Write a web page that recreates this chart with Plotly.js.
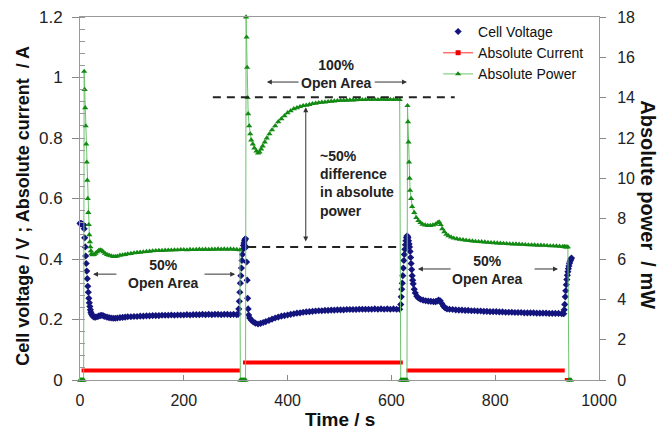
<!DOCTYPE html>
<html>
<head>
<meta charset="utf-8">
<script src="https://cdn.plot.ly/plotly-3.0.1.min.js"></script>
<style>html,body{margin:0;padding:0;background:#fff;}#chart{width:672px;height:431px;}</style>
</head>
<body>
<div id="chart"></div>
<script>
// Cell voltage (V) vs time (s)
var tVoltage = [0,1.5,3,4.5,6,7,
  8,9,10,11,12,13,14,15,16,17,18,19,20,21,22,24,27,30,33,36,39,42,45,48,52,56,60,64,68,72,77,82,87,92,98,104,110,116,122,128,134,140,146,152,158,164,170,176,182,188,194,200,206,212,218,224,230,236,242,248,254,260,266,272,278,284,290,296,302,305,
  306,307,308,309,310,311,312,313,314,315,316,317,318,319,
  320,321,322,323,324,325,327,330,334,338,343,348,353,358,364,370,376,382,388,394,400,406,412,418,424,430,436,442,448,454,460,466,472,478,484,490,496,502,508,514,520,526,532,538,544,550,556,562,568,574,580,586,592,598,604,610,616,
  618,619,620,621,622,623,624,625,626,627,628,629,630,
  631,632,633,634,635,636,637,638,639,640,641,642,644,646,649,652,656,661,666,671,676,681,685,688,691,694,697,700,703,707,712,718,724,730,736,742,748,754,760,766,772,778,784,790,796,802,808,814,820,826,832,838,844,850,856,862,868,874,880,886,892,898,904,910,916,922,928,932,
  933,934,935,936,937,938,939,940,941,942,943,944,945,946,947];
var cellVoltage = [0.518,0.516,0.517,0.515,0.514,0.512,
  0.50,0.47,0.44,0.41,0.385,0.36,0.335,0.31,0.29,0.27,0.255,0.243,0.232,0.224,0.218,0.212,0.208,0.208,0.209,0.211,0.213,0.214,0.212,0.210,0.208,0.206,0.205,0.204,0.204,0.205,0.206,0.207,0.208,0.209,0.209,0.210,0.210,0.211,0.211,0.212,0.212,0.213,0.213,0.213,0.214,0.214,0.214,0.215,0.214,0.215,0.215,0.215,0.216,0.215,0.216,0.216,0.216,0.217,0.216,0.217,0.216,0.217,0.217,0.216,0.217,0.217,0.216,0.217,0.216,0.218,
  0.235,0.26,0.29,0.32,0.345,0.37,0.395,0.415,0.432,0.445,0.453,0.46,0.465,0.467,
  0.44,0.39,0.33,0.27,0.235,0.215,0.205,0.198,0.192,0.188,0.185,0.187,0.19,0.193,0.197,0.201,0.205,0.208,0.211,0.213,0.215,0.217,0.219,0.221,0.222,0.224,0.225,0.226,0.227,0.228,0.229,0.229,0.23,0.23,0.231,0.231,0.232,0.232,0.232,0.233,0.233,0.233,0.233,0.234,0.234,0.234,0.234,0.234,0.235,0.234,0.235,0.234,0.235,0.234,0.235,0.234,0.234,
  0.25,0.275,0.30,0.32,0.345,0.37,0.395,0.415,0.432,0.447,0.46,0.47,0.476,
  0.475,0.47,0.46,0.45,0.44,0.425,0.405,0.385,0.365,0.345,0.33,0.318,0.30,0.288,0.277,0.271,0.267,0.264,0.262,0.261,0.26,0.259,0.259,0.261,0.264,0.262,0.253,0.245,0.239,0.235,0.234,0.233,0.232,0.231,0.231,0.23,0.23,0.229,0.229,0.228,0.228,0.227,0.227,0.226,0.226,0.226,0.225,0.225,0.224,0.224,0.224,0.223,0.223,0.223,0.222,0.222,0.222,0.222,0.221,0.221,0.221,0.221,0.22,0.22,0.22,0.22,0.219,0.219,
  0.232,0.25,0.275,0.295,0.315,0.332,0.346,0.358,0.368,0.377,0.385,0.391,0.396,0.40,0.403];

// Absolute current (A) vs time (s); null breaks between steps
var tCurrent = [0,3,null,3,308,null,309,314,null,314,622,null,622,629,null,629,934,null,934,947];
var absCurrent = [0,0,null,0.031,0.031,null,0,0,null,0.058,0.058,null,0,0,null,0.031,0.031,null,0,0];

// Absolute power (mW) vs time (s)
var tPower = [0,1.5,3,4.5,6,7,
  8,9,10,11,12,13,14,15,16,17,18,19,20,21,22,24,27,30,33,36,39,42,45,48,52,56,60,64,68,72,77,82,87,92,98,104,110,116,122,128,134,140,146,152,158,164,170,176,182,188,194,200,206,212,218,224,230,236,242,248,254,260,266,272,278,284,290,296,302,308,
  309,311,313,315,317,319,
  320,321,322,323,324,326,328,330,333,336,340,343,346,349,352,356,360,365,370,376,382,388,394,400,406,412,418,424,430,436,442,448,454,460,466,472,478,484,490,496,502,508,514,520,526,532,538,544,550,556,562,568,574,580,586,592,598,604,610,616,
  618,620,622,624,626,628,630,
  631,632,633,634,635,636,638,640,644,648,652,656,660,665,670,675,680,685,689,692,695,698,702,706,710,715,720,726,732,738,744,750,756,762,768,774,780,786,792,798,804,810,816,822,828,834,840,846,852,858,864,870,876,882,888,894,900,906,912,918,924,930,933,
  934,936,938,940,942,944,946];
var absPower = [0,0,0,0,0,0,
  15.3,14.4,13.5,12.6,11.7,10.8,9.9,9.0,8.3,7.7,7.2,6.85,6.6,6.4,6.25,6.2,6.22,6.28,6.35,6.42,6.45,6.42,6.35,6.28,6.22,6.18,6.15,6.12,6.12,6.14,6.18,6.2,6.22,6.25,6.27,6.3,6.32,6.33,6.35,6.37,6.38,6.4,6.41,6.42,6.42,6.43,6.44,6.44,6.45,6.45,6.46,6.46,6.45,6.47,6.46,6.47,6.48,6.47,6.48,6.47,6.48,6.48,6.49,6.48,6.49,6.48,6.49,6.48,6.47,6.45,
  0,0,0,0,0,0,
  18.0,17.0,15.5,14.0,13.2,12.6,12.2,11.9,11.7,11.5,11.35,11.25,11.3,11.45,11.6,11.8,12.0,12.2,12.4,12.6,12.8,12.95,13.1,13.25,13.35,13.45,13.5,13.55,13.6,13.62,13.66,13.7,13.72,13.75,13.77,13.78,13.8,13.82,13.83,13.85,13.86,13.86,13.87,13.88,13.88,13.89,13.9,13.9,13.9,13.91,13.9,13.91,13.9,13.92,13.91,13.9,13.91,13.9,13.92,13.9,
  0,0,0,0,0,0,0,
  13.6,12.8,11.8,10.8,10.0,9.4,9.0,8.6,8.3,8.05,7.9,7.8,7.72,7.68,7.66,7.66,7.68,7.72,7.8,7.84,7.7,7.5,7.35,7.22,7.15,7.08,7.03,7.0,6.97,6.95,6.93,6.91,6.89,6.87,6.86,6.85,6.84,6.82,6.81,6.8,6.79,6.78,6.77,6.76,6.75,6.74,6.74,6.73,6.72,6.71,6.7,6.7,6.69,6.68,6.68,6.67,6.66,6.65,6.65,6.64,6.63,6.62,6.61,6.6,6.6,6.59,6.6,
  0,0,0,0,0,0,0];

var FONT = 'Arial, "Liberation Sans", sans-serif';
var navy = '#14147e';
var dkGreen = '#138a13';

var traces = [
  {x: tVoltage, y: cellVoltage, name: 'Cell Voltage', type: 'scatter', mode: 'markers',
   marker: {symbol: 'diamond', size: 5.5, color: navy}, yaxis: 'y', cliponaxis: false},
  {x: tCurrent, y: absCurrent, name: 'Absolute Current', type: 'scatter', mode: 'lines',
   line: {color: '#ff0000', width: 4}, yaxis: 'y', showlegend: false, cliponaxis: false},
  {x: [null], y: [null], name: 'Absolute Current', type: 'scatter', mode: 'lines+markers',
   line: {color: '#ff7070', width: 1.5}, marker: {symbol: 'square', size: 5, color: '#ee0000'}, yaxis: 'y'},
  {x: tPower, y: absPower, name: 'Absolute Power', type: 'scatter', mode: 'lines+markers',
   line: {color: '#6cc46c', width: 1}, marker: {symbol: 'triangle-up', size: 5.5, color: dkGreen},
   yaxis: 'y2', cliponaxis: false}
];

var annFont = {family: FONT, size: 14, color: '#222'};
function harrow(xh, xt, y) {
  return {x: xh, y: y, ax: xt, ay: y, xref: 'x', yref: 'y', axref: 'x', ayref: 'y',
          text: '', showarrow: true, arrowhead: 2, arrowsize: 1, arrowwidth: 1, arrowcolor: '#333'};
}

var layout = {
  width: 672, height: 431,
  margin: {l: 80, r: 73, t: 17, b: 51},
  paper_bgcolor: '#fff', plot_bgcolor: '#fff',
  font: {family: FONT, color: '#222'},
  showlegend: true,
  legend: {x: 0.69, y: 1.003, xanchor: 'left', yanchor: 'top', bgcolor: 'rgba(0,0,0,0)',
           font: {family: FONT, size: 14, color: '#111'}, tracegroupgap: 0},
  xaxis: {range: [0, 1000], dtick: 200, tick0: 0, showgrid: false, zeroline: false,
          showline: true, linecolor: '#999', linewidth: 1, mirror: true,
          ticks: 'inside', ticklen: 5, tickcolor: '#888',
          tickfont: {family: FONT, size: 16, color: '#222'}, ticklabelstandoff: 6},
  yaxis: {range: [0, 1.2], dtick: 0.2, tick0: 0, showgrid: false, zeroline: false,
          showline: true, linecolor: '#999', linewidth: 1,
          ticks: 'outside', ticklen: 7, tickcolor: '#888',
          minor: {dtick: 0.04, ticks: 'inside', ticklen: 5, tickcolor: '#999'},
          tickfont: {family: FONT, size: 17, color: '#222'}, ticklabelstandoff: 6},
  yaxis2: {range: [0, 18], dtick: 2, tick0: 0, overlaying: 'y', side: 'right', anchor: 'x',
           showgrid: false, zeroline: false, showline: true, linecolor: '#999', linewidth: 1,
           ticks: 'outside', ticklen: 6, tickcolor: '#888',
           tickfont: {family: FONT, size: 16, color: '#222'}, ticklabelstandoff: 8},
  yaxis3: {range: [0, 18], dtick: 2, tick0: 0, overlaying: 'y', side: 'right', anchor: 'x',
           showgrid: false, zeroline: false, showline: false, showticklabels: false,
           ticks: 'inside', ticklen: 6, tickcolor: '#888'},
  shapes: [
    {type: 'line', xref: 'x', yref: 'y', x0: 256, x1: 722, y0: 0.935, y1: 0.935,
     line: {color: '#222', width: 2, dash: '8px,6px'}},
    {type: 'line', xref: 'x', yref: 'y', x0: 324, x1: 617, y0: 0.44, y1: 0.44,
     line: {color: '#222', width: 2, dash: '8px,6px'}}
  ],
  annotations: [
    {x: 160, y: 0.35, xref: 'x', yref: 'y', text: '<b>50%<br>Open Area</b>', showarrow: false, font: annFont, align: 'center'},
    {x: 493, y: 1.013, xref: 'x', yref: 'y', text: '<b>100%<br>Open Area</b>', showarrow: false, font: annFont, align: 'center'},
    {x: 784, y: 0.364, xref: 'x', yref: 'y', text: '<b>50%<br>Open Area</b>', showarrow: false, font: annFont, align: 'center'},
    {x: 459, y: 0.651, xref: 'x', yref: 'y', xanchor: 'left', text: '<b>~50%<br>difference<br>in absolute<br>power</b>', showarrow: false, font: annFont, align: 'left'},
    harrow(25, 73, 0.35), harrow(299, 237, 0.35),
    harrow(360, 424, 0.985), harrow(630, 565, 0.985),
    harrow(651, 717, 0.367), harrow(921, 873, 0.367),
    {x: 435, y: 0.902, ax: 435, ay: 0.453, xref: 'x', yref: 'y', axref: 'x', ayref: 'y',
     text: '', showarrow: true, arrowhead: 2, arrowside: 'end+start', arrowsize: 1, arrowwidth: 1, arrowcolor: '#333'},
    {x: -0.11, y: 0.48, xref: 'paper', yref: 'paper', xanchor: 'center', yanchor: 'middle', textangle: -90, showarrow: false,
     text: '<b>Cell voltage / V ; Absolute current&nbsp; / A</b>', font: {family: FONT, size: 18, color: '#111'}},
    {x: 1.094, y: 0.482, xref: 'paper', yref: 'paper', xanchor: 'center', yanchor: 'middle', textangle: 90, showarrow: false,
     text: '<b>Absolute power&nbsp; / mW</b>', font: {family: FONT, size: 20, color: '#111'}},
    {x: 0.501, y: -0.108, xref: 'paper', yref: 'paper', xanchor: 'center', yanchor: 'middle', showarrow: false,
     text: '<b>Time / s</b>', font: {family: FONT, size: 19, color: '#111'}}
  ]
};

Plotly.newPlot('chart', traces, layout, {displayModeBar: false, staticPlot: true});
</script>
</body>
</html>
